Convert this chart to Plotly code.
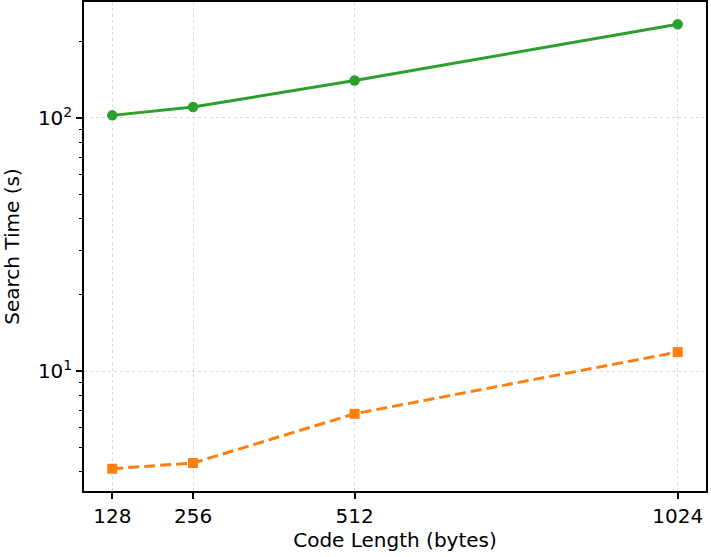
import plotly.graph_objects as go

code_length = [128, 256, 512, 1024]
search_time_green = [102.4, 110.5, 140.6, 234.5]
search_time_orange = [4.12, 4.34, 6.79, 11.9]
x_ticks = [128, 256, 512, 1024]
y_tickvals = [10, 100]
y_ticktext = ["10<sup>1</sup>", "10<sup>2</sup>"]
y_minor = [4, 5, 6, 7, 8, 9, 20, 30, 40, 50, 60, 70, 80, 90, 200]

fig = go.Figure()
fig.add_trace(go.Scatter(
    x=code_length, y=search_time_green, mode="lines+markers", name="green",
    line=dict(color="#2ca02c", width=3),
    marker=dict(symbol="circle", size=10.5, color="#2ca02c"),
))
fig.add_trace(go.Scatter(
    x=code_length, y=search_time_orange, mode="lines+markers", name="orange",
    line=dict(color="#ff7f0e", width=3, dash="11px,5px"),
    marker=dict(symbol="square", size=10, color="#ff7f0e"),
))

font = dict(family="DejaVu Sans", size=20, color="black")

fig.update_layout(
    width=711, height=557,
    margin=dict(l=84, r=5, t=2, b=66, autoexpand=False),
    plot_bgcolor="white", paper_bgcolor="white",
    showlegend=False,
    font=font,
)
fig.update_xaxes(
    range=[83.2, 1068.8],
    tickvals=x_ticks, ticktext=[str(v) for v in x_ticks],
    ticks="outside", ticklen=6, tickwidth=1.5, tickcolor="black",
    showline=True, linecolor="black", linewidth=1.5, mirror=True,
    showgrid=True, gridcolor="#dcdcdc", gridwidth=1, griddash="dot",
    zeroline=False, automargin=False,
    title=dict(text="Code Length (bytes)", font=font, standoff=6),
    tickfont=font,
)
fig.update_yaxes(
    type="log",
    range=[0.527, 2.458],
    tickvals=y_tickvals, ticktext=y_ticktext,
    ticks="outside", ticklen=6, tickwidth=1.5, tickcolor="black",
    minor=dict(tickvals=y_minor, ticks="outside", ticklen=3.5, tickwidth=1.2,
               tickcolor="black", showgrid=False),
    showline=True, linecolor="black", linewidth=1.5, mirror=True,
    showgrid=True, gridcolor="#dcdcdc", gridwidth=1, griddash="dot",
    zeroline=False, automargin=False,
    title=dict(text="Search Time (s)", font=font, standoff=13),
    tickfont=font,
)

fig.write_html(
    "out.html",
    config={"displayModeBar": False},
    post_script="document.body.style.margin='0';document.body.style.overflow='hidden';",
)
